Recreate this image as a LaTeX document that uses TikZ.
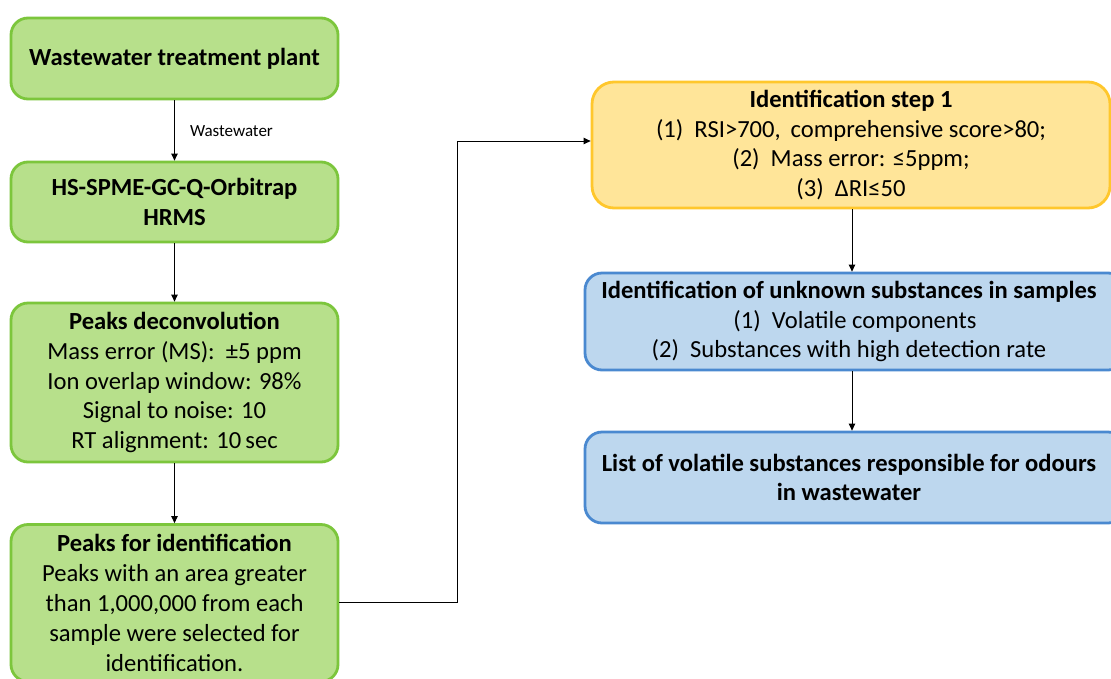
\documentclass[tikz,border=0pt]{standalone}
\usepackage{fontspec}
\setmainfont{Carlito}
\usetikzlibrary{arrows.meta}
\definecolor{gfill}{RGB}{183,224,139}
\definecolor{gdraw}{RGB}{124,198,60}
\definecolor{yfill}{RGB}{255,229,153}
\definecolor{ydraw}{RGB}{255,199,44}
\definecolor{bfill}{RGB}{189,215,238}
\definecolor{bdraw}{RGB}{74,137,208}
\tikzset{
  box/.style={rectangle, rounded corners=17pt, line width=2.8pt, align=center, inner sep=0pt,
    font=\fontsize{24.6}{29.8}\selectfont},
  gbox/.style={box, fill=gfill, draw=gdraw, minimum width=327pt},
  ybox/.style={box, fill=yfill, draw=ydraw, rounded corners=22pt},
  bbox/.style={box, fill=bfill, draw=bdraw},
  arr/.style={line width=1pt, -{Triangle[length=7pt,width=6.5pt]}},
  lbl/.style={font=\fontsize{17}{19}\selectfont, anchor=west, inner sep=0pt}
}
\begin{document}
\begin{tikzpicture}[x=1pt,y=-1pt]
\useasboundingbox (0,0) rectangle (1111,678);
\fill[white] (0,0) rectangle (1111,678);
\node[gbox, minimum height=81pt] (b1) at (174.5,58.5) {\bfseries Wastewater treatment plant};
\node[gbox, minimum height=80pt] (b2) at (174.5,202) {\bfseries HS-SPME-GC-Q-Orbitrap\\\bfseries HRMS};
\node[gbox, minimum height=159pt] (b3) at (174.5,382.5) {\bfseries Peaks deconvolution\\Mass error (MS):\ \ ±5 ppm\\Ion overlap window: 98\%\\Signal to noise: 10\\RT alignment: 10\,sec};
\node[gbox, minimum height=157pt] (b4) at (174.5,603) {\bfseries Peaks for identification\\Peaks with an area greater\\than 1,000,000 from each\\sample were selected for\\identification.};
\node[ybox, minimum width=518pt, minimum height=126pt] (y1) at (851,145) {\bfseries Identification step 1\\(1)\hspace{0.45em}RSI>700,\hspace{0.4em}comprehensive score>80;\\(2)\hspace{0.45em}Mass error: ≤5ppm;\\(3)\hspace{0.45em}ΔRI≤50};
\node[bbox, minimum width=540pt, minimum height=97pt] (u1) at (855,321.5) {\bfseries Identification of unknown substances in samples\hspace*{12pt}\\(1)\hspace{0.45em}Volatile components\hspace*{12pt}\\(2)\hspace{0.45em}Substances with high detection rate\hspace*{12pt}};
\node[bbox, minimum width=540pt, minimum height=91pt] (u2) at (855,477.5) {\bfseries List of volatile substances responsible for odours\hspace*{12pt}\\\bfseries in wastewater\hspace*{12pt}};
\draw[arr] (b1) -- node[lbl, xshift=15pt, yshift=-1pt] (wl) {Wastewater} (b2);
\draw[arr] (b2) -- (b3);
\draw[arr] (b3) -- (b4);
\coordinate (elbow) at (457,141);
\draw[arr] (b4.east |- 0,602) -- (elbow |- 0,602) -- (elbow) -- (y1.west |- elbow);
\draw[arr] (y1.south -| 852,0) -- (u1.north -| 852,0);
\draw[arr] (u1.south -| 852,0) -- (u2.north -| 852,0);
\end{tikzpicture}
\end{document}
